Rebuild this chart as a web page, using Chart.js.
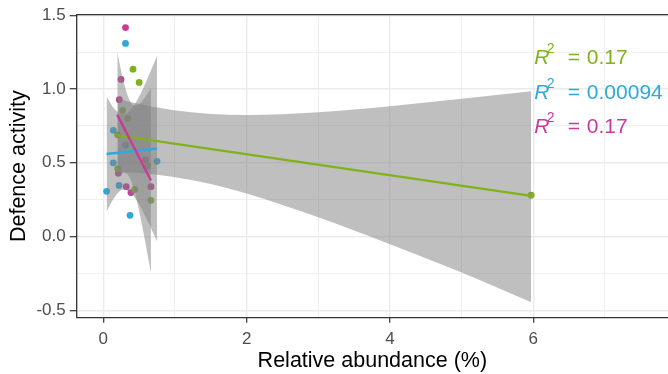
<!DOCTYPE html>
<html>
<head>
<meta charset="utf-8">
<script src="https://cdn.jsdelivr.net/npm/chart.js@4.4.0/dist/chart.umd.min.js"></script>
<style>
  html, body { margin: 0; padding: 0; background: #fff; overflow: hidden; }
  #wrap { width: 672px; height: 374px; position: relative; }
</style>
</head>
<body>
<div id="wrap"><canvas id="chart"></canvas></div>
<script>
// group colours
const green = '#80B21C';
const blue = '#2EA9DA';
const magenta = '#C93A9B';

// observed points per group (relative abundance %, defence activity)
const greenX = [0.415, 0.50, 0.27, 0.345, 0.20, 0.20, 0.62, 0.44, 0.665, 5.97];
const greenY = [1.135, 1.045, 0.855, 0.80, 0.69, 0.46, 0.48, 0.32, 0.246, 0.28];
const blueX = [0.31, 0.14, 0.31, 0.14, 0.75, 0.046, 0.22, 0.373];
const blueY = [1.309, 0.72, 0.62, 0.50, 0.51, 0.307, 0.347, 0.144];
const magentaX = [0.31, 0.247, 0.223, 0.59, 0.21, 0.32, 0.386, 0.665];
const magentaY = [1.417, 1.065, 0.928, 0.52, 0.43, 0.338, 0.298, 0.338];

// fitted lines
const greenFitX = [0.20, 5.97];
const greenFitY = [0.686, 0.276];
const blueFitX = [0.046, 0.75];
const blueFitY = [0.560, 0.597];
const magentaFitX = [0.195, 0.665];
const magentaFitY = [0.826, 0.380];

// confidence ribbons (upper / lower edge)
const greenBandX = [0.20, 0.50, 0.96, 1.5, 2, 3, 4, 5, 5.97];
const greenBandHi = [0.934, 0.899, 0.858, 0.831, 0.824, 0.843, 0.884, 0.934, 0.985];
const greenBandLo = [0.438, 0.431, 0.406, 0.357, 0.292, 0.131, -0.052, -0.244, -0.445];
const blueBandX = [0.046, 0.15, 0.286, 0.45, 0.6, 0.75];
const blueBandHi = [0.950, 0.868, 0.825, 0.905, 1.053, 1.226];
const blueBandLo = [0.170, 0.262, 0.321, 0.257, 0.125, -0.032];
const magentaBandX = [0.195, 0.28, 0.369, 0.45, 0.55, 0.665];
const magentaBandHi = [1.250, 1.057, 0.922, 0.888, 0.923, 1.005];
const magentaBandLo = [0.402, 0.433, 0.400, 0.280, 0.055, -0.245];

// axes
const xTicks = [0, 1, 2, 3, 4, 5, 6, 7];
const yTicks = [-0.5, -0.25, 0, 0.25, 0.5, 0.75, 1, 1.25, 1.5];
const xMajor = [0, 2, 4, 6];
const yMajor = [-0.5, 0, 0.5, 1, 1.5];

// R squared labels
const r2Text = ['0.17', '0.00094', '0.17'];
const r2Colors = [green, blue, magenta];

const FONT = '"Liberation Sans", Arial, sans-serif';
const zip = (xs, ys) => xs.map((x, i) => ({ x: x, y: ys[i] }));

function pointSet(xs, ys, col) {
    return { data: zip(xs, ys), showLine: false, pointRadius: 3.4, pointBorderWidth: 0,
             pointBackgroundColor: col, backgroundColor: col, borderColor: col, order: 30 };
}
function lineSet(xs, ys, col, ord) {
    return { data: zip(xs, ys), showLine: true, pointRadius: 0, borderColor: col,
             borderWidth: 2.4, fill: false, order: ord };
}
function bandSets(xs, hi, lo) {
    const shade = 'rgba(128,128,128,0.5)';
    return [
        { data: zip(xs, hi), showLine: true, pointRadius: 0, borderWidth: 0, borderColor: 'rgba(0,0,0,0)',
          cubicInterpolationMode: 'monotone', fill: false, order: 20 },
        { data: zip(xs, lo), showLine: true, pointRadius: 0, borderWidth: 0, borderColor: 'rgba(0,0,0,0)',
          cubicInterpolationMode: 'monotone', fill: '-1', backgroundColor: shade, order: 20 }
    ];
}

const datasets = [
    pointSet(greenX, greenY, green),
    pointSet(blueX, blueY, blue),
    pointSet(magentaX, magentaY, magenta),
    ...bandSets(greenBandX, greenBandHi, greenBandLo),
    ...bandSets(blueBandX, blueBandHi, blueBandLo),
    ...bandSets(magentaBandX, magentaBandHi, magentaBandLo),
    lineSet(greenFitX, greenFitY, green, 12),
    lineSet(blueFitX, blueFitY, blue, 11),
    lineSet(magentaFitX, magentaFitY, magenta, 10)
];

// panel border (right side falls outside the cropped picture) + R^2 annotations
const panelPlugin = {
    id: 'panel',
    afterDatasetsDraw(chart) {
        const ctx = chart.ctx, a = chart.chartArea;
        ctx.save();
        ctx.strokeStyle = '#333333';
        ctx.lineWidth = 1.3;
        ctx.beginPath();
        ctx.moveTo(chart.width + 2, a.top);
        ctx.lineTo(a.left, a.top);
        ctx.lineTo(a.left, a.bottom);
        ctx.lineTo(chart.width + 2, a.bottom);
        ctx.stroke();

        const x0 = chart.scales.x.getPixelForValue(6.0) + 1;
        ctx.textBaseline = 'alphabetic';
        ctx.textAlign = 'left';
        r2Text.forEach((t, i) => {
            const y = a.top + 49.6 + i * 34.2;
            ctx.fillStyle = r2Colors[i];
            ctx.font = 'italic 21px ' + FONT;
            ctx.fillText('R', x0, y);
            ctx.font = '14px ' + FONT;
            ctx.fillText('2', x0 + 12.5, y - 11);
            ctx.font = '21px ' + FONT;
            ctx.fillText('=', x0 + 33.5, y);
            ctx.fillText(t, x0 + 52.5, y);
        });
        ctx.restore();
    }
};

const isMajor = (list, v) => list.some(m => Math.abs(m - v) < 1e-9);

const ctx = document.getElementById('chart').getContext('2d');
const chart = new Chart(ctx, {
    type: 'line',
    data: { datasets: datasets },
    options: {
        responsive: true,
        maintainAspectRatio: false,
        animation: false,
        devicePixelRatio: 1,
        events: [],
        layout: { padding: { top: 14.7, right: 0, left: 0, bottom: 0 } },
        plugins: { legend: { display: false }, tooltip: { enabled: false } },
        scales: {
            x: {
                type: 'linear',
                min: -0.371,
                max: 7.879,
                afterBuildTicks: s => { s.ticks = xTicks.map(v => ({ value: v })); },
                afterFit: s => { s.height = 56.3; },
                ticks: {
                    autoSkip: false, maxRotation: 0, padding: 6,
                    color: '#4D4D4D', font: { family: FONT, size: 17 },
                    callback: v => isMajor(xMajor, v) ? String(v) : ''
                },
                grid: {
                    color: '#EBEBEB',
                    lineWidth: c => isMajor(xMajor, c.tick.value) ? 1.4 : 0.8,
                    tickColor: c => isMajor(xMajor, c.tick.value) ? '#333333' : 'rgba(0,0,0,0)',
                    tickLength: 5, tickWidth: 1.2
                },
                border: { display: false },
                title: {
                    display: true, text: 'Relative abundance (%)', color: '#000',
                    font: { family: FONT, size: 21.5, lineHeight: 1.16 },
                    padding: { top: 0, bottom: 0 }
                }
            },
            y: {
                type: 'linear',
                min: -0.55,
                max: 1.504,
                afterBuildTicks: s => { s.ticks = yTicks.map(v => ({ value: v })); },
                afterFit: s => { s.width = 76.7; },
                ticks: {
                    autoSkip: false, padding: 4,
                    color: '#4D4D4D', font: { family: FONT, size: 17 },
                    callback: v => isMajor(yMajor, v) ? v.toFixed(1) : ''
                },
                grid: {
                    color: '#EBEBEB',
                    lineWidth: c => isMajor(yMajor, c.tick.value) ? 1.4 : 0.8,
                    tickColor: c => isMajor(yMajor, c.tick.value) ? '#333333' : 'rgba(0,0,0,0)',
                    tickLength: 7, tickWidth: 1.2
                },
                border: { display: false },
                title: {
                    display: true, text: 'Defence activity', color: '#000',
                    font: { family: FONT, size: 21.5, lineHeight: 1.16 },
                    padding: { top: 6.7, bottom: 0 }
                }
            }
        }
    },
    plugins: [panelPlugin]
});
</script>
</body>
</html>
